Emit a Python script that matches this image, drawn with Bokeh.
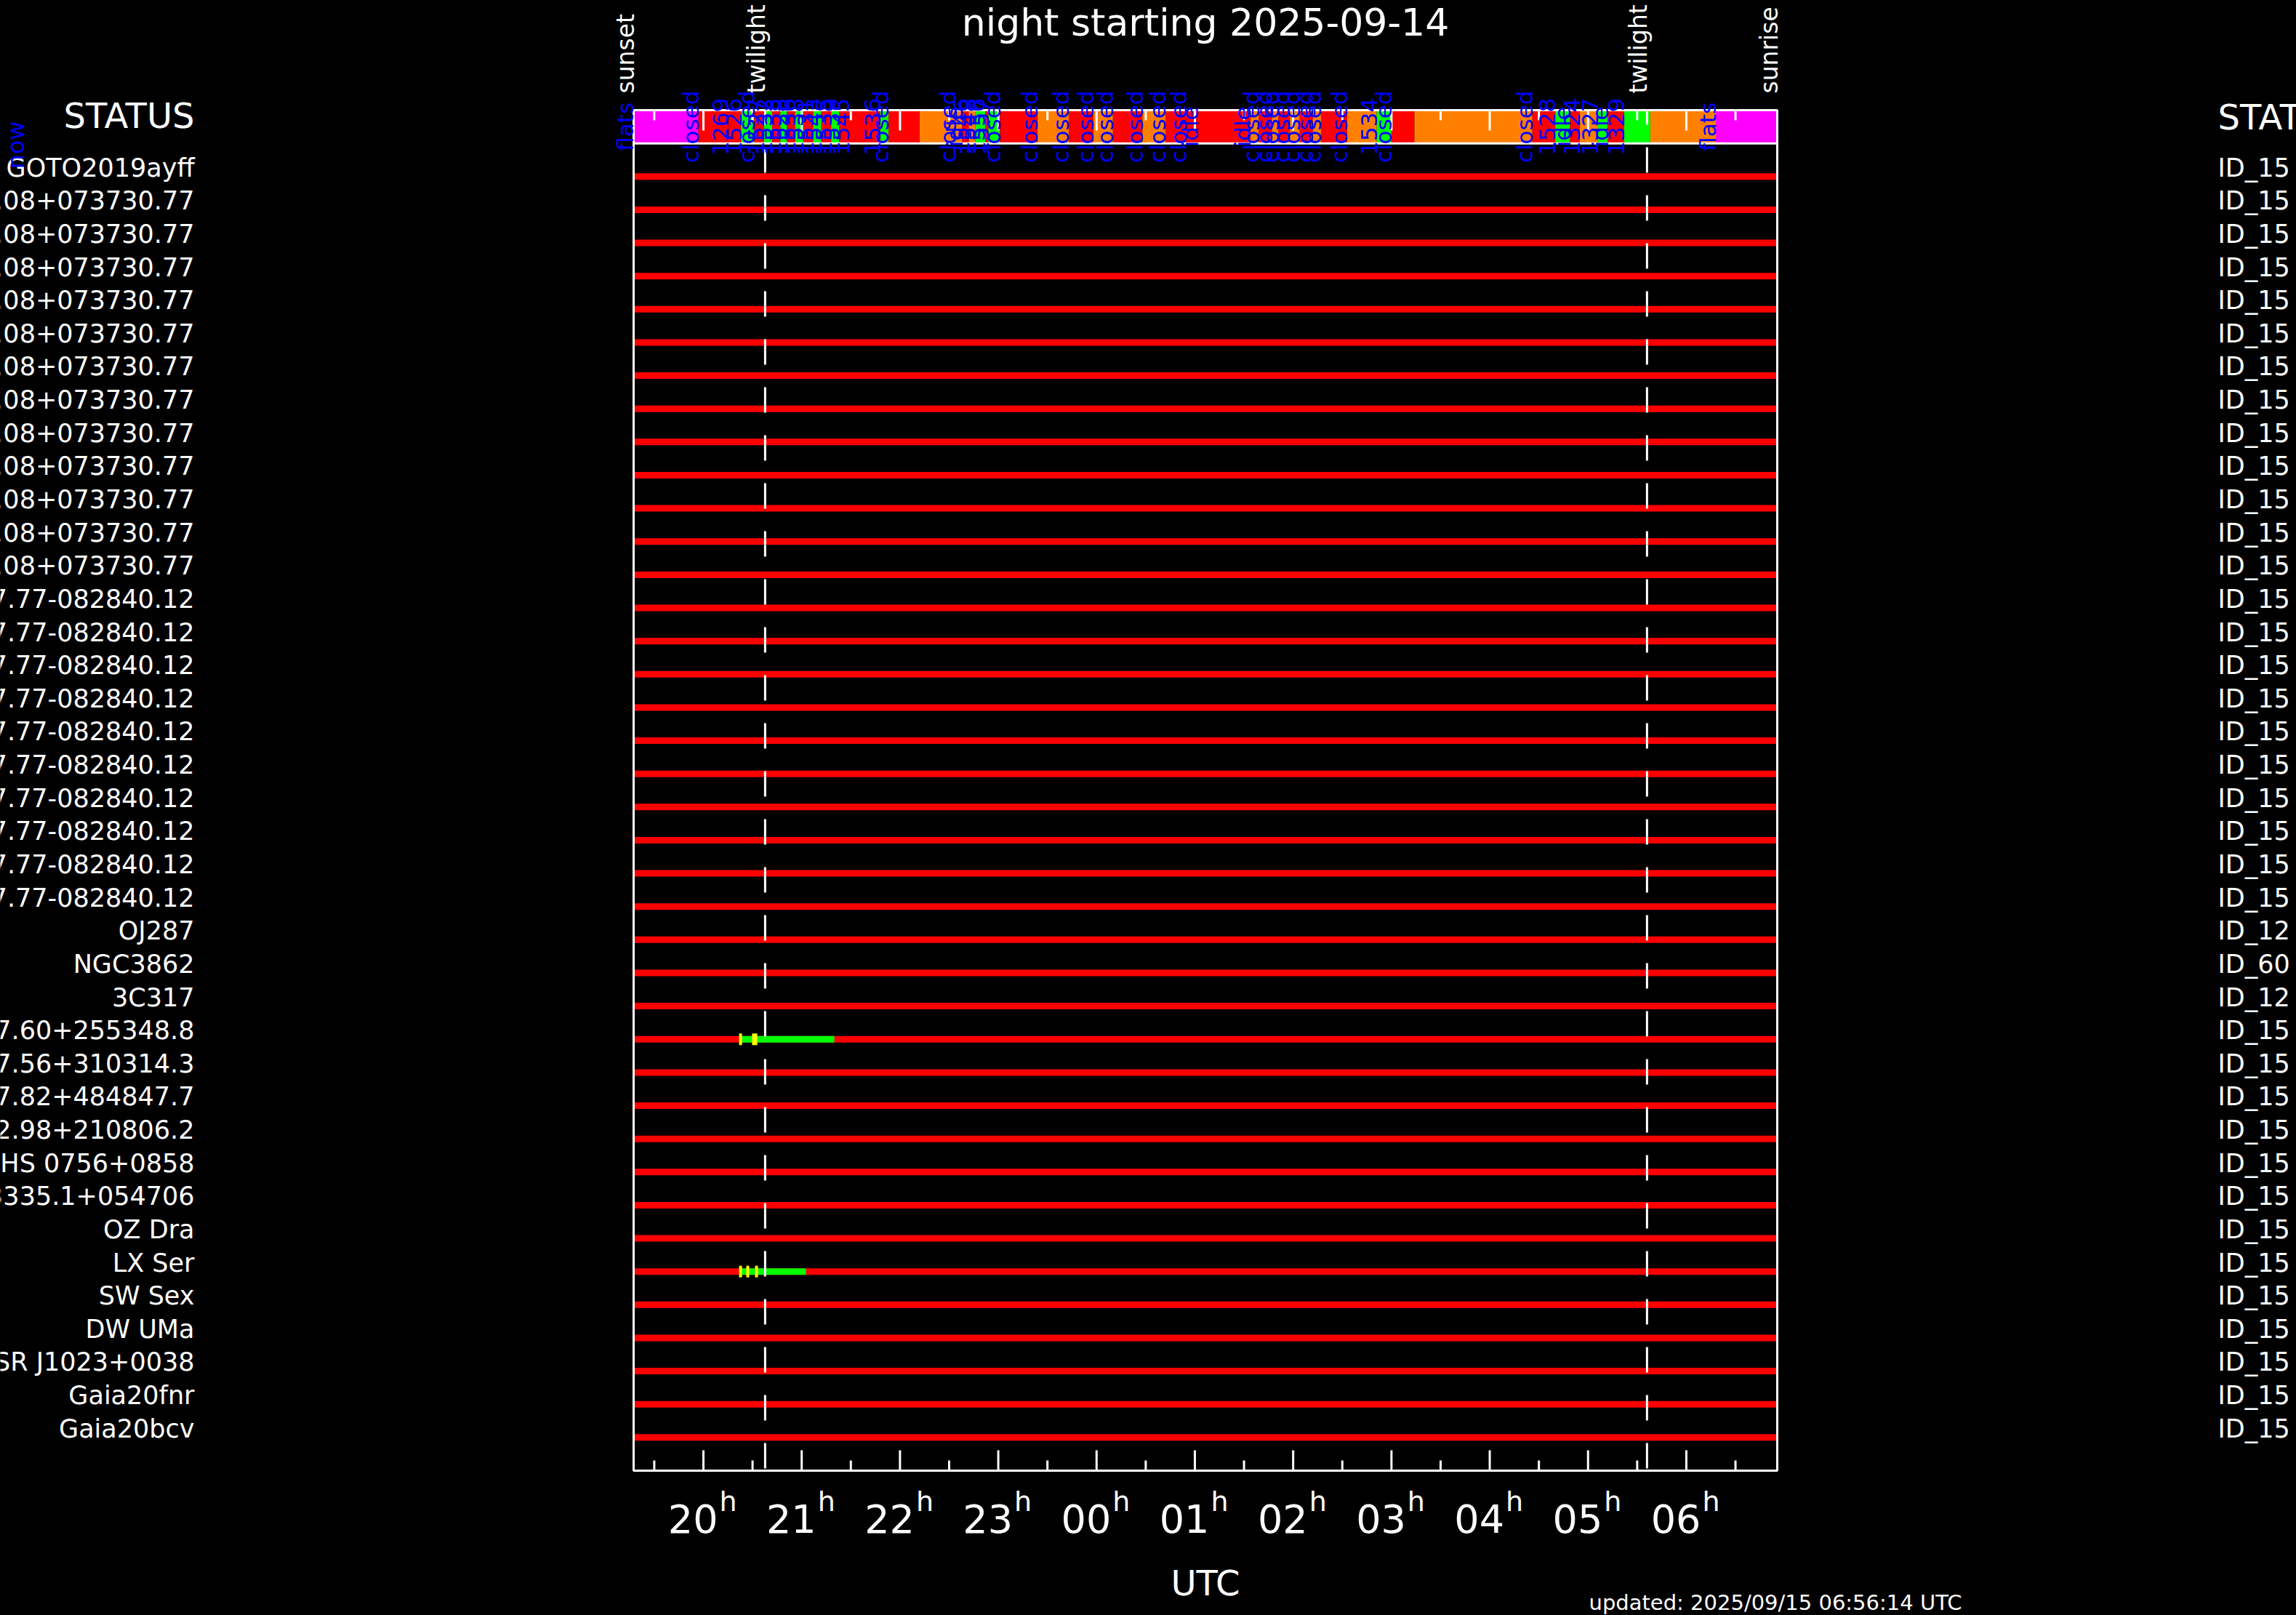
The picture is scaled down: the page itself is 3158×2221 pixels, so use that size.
import math
from bokeh.plotting import figure
from bokeh.models import Range1d, ColumnDataSource, GlobalInlineStyleSheet
from bokeh.embed import file_html
from bokeh.resources import INLINE
from bokeh.core.properties import value

# ---------------- data ----------------
night_date = "2025-09-14"
updated_text = "updated: 2025/09/15 06:56:14 UTC"
sunset = "19:17:24"
sunrise = "06:55:30"
twilight_eve = "20:37:40"
twilight_morn = "05:36:00"

targets = (["GOTO2019ayff"] + ["J081305.08+073730.77"] * 12 + ["J153117.77-082840.12"] * 10 +
           ["OJ287", "NGC3862", "3C317", "J154817.60+255348.8", "J075107.56+310314.3",
            "J132307.82+484847.7", "J152212.98+210806.2", "HS 0756+0858", "J183335.1+054706",
            "OZ Dra", "LX Ser", "SW Sex", "DW UMa", "PSR J1023+0038", "Gaia20fnr", "Gaia20bcv"])
target_ids = (["ID_15"] * 23 + ["ID_12", "ID_60", "ID_12"] + ["ID_15"] * 13)

obs_target = ["J154817.60+255348.8", "LX Ser"]
obs_start = ["20:22:12", "20:22:12"]
obs_end = ["21:19:54", "21:02:36"]

exp_target = ["J154817.60+255348.8"] * 3 + ["LX Ser"] * 3
exp_time = ["20:22:40", "20:30:36", "20:32:00", "20:22:40", "20:27:04", "20:32:24"]

status_start = ["19:17", "19:57", "20:15", "20:23", "20:31", "20:37", "20:42", "20:47", "20:51",
                "20:56", "21:01", "21:07", "21:12", "21:18", "21:23", "21:29", "21:48", "21:53",
                "22:12", "22:34", "22:38", "22:42", "22:46", "22:52", "22:54", "23:01", "23:24",
                "23:43", "23:58", "00:10", "00:28", "00:42", "00:55", "01:02", "01:34", "01:39",
                "01:47", "01:51", "01:58", "02:04", "02:12", "02:17", "02:33", "02:51", "03:00",
                "03:14", "04:26", "04:40", "04:49", "04:55", "05:06", "05:12", "05:22", "05:38",
                "06:18"]
status_state = ["flats", "closed", "closed", "observing", "closed", "observing", "closed", "observing",
                "closed", "observing", "closed", "observing", "closed", "observing", "closed", "closed",
                "observing", "closed", "open", "open", "closed", "open", "observing", "closed",
                "observing", "closed", "open", "closed", "open", "closed", "open", "closed", "closed",
                "closed", "open", "closed", "open", "closed", "open", "closed", "open", "closed",
                "open", "observing", "closed", "open", "closed", "observing", "closed", "open",
                "observing", "closed", "observing", "open", "flats"]
status_label = ["flats", "closed", "1269", "1526", "closed", "1527", "1532", "1533", "1528",
                "1536", "1538", "1531", "1543", "1535", "1539", "1545", "1536", "closed",
                "", "closed", "idle", "1546", "1548", "1556", "1557", "closed", "closed",
                "closed", "closed", "closed", "closed", "closed", "closed", "idle", "idle", "closed",
                "closed", "closed", "closed", "closed", "closed", "closed", "closed", "1534", "closed",
                "", "closed", "1528", "idle", "1324", "1327", "idle", "1329", "",
                "flats"]

tick_hours = [20, 21, 22, 23, 24, 25, 26, 27, 28, 29, 30]
tick_labels = ["20", "21", "22", "23", "00", "01", "02", "03", "04", "05", "06"]


def hrs(t):
    parts = [float(x) for x in t.split(":")]
    h = parts[0] + parts[1] / 60 + (parts[2] / 3600 if len(parts) > 2 else 0)
    return h + 24 if h < 12 else h


STATE_COLOR = {"flats": "#FF00FF", "closed": "#FF0000", "open": "#FF8000", "observing": "#00FF00"}
FONT = value("DejaVu Sans")
WHITE, BLUE = "#FFFFFF", "#0000FF"
BL = 0.346   # baseline correction (fraction of font size)

t_set, t_rise = hrs(sunset), hrs(sunrise)
rows = list(range(len(targets)))
row_of = {n: i for i, n in enumerate(targets)}
n_rows = len(targets)

# ---- layout (pixels of the canvas) ----
W, H = 3158, 2221
BOX_L, BOX_R, BOX_T, BOX_B = 871, 2444, 151, 2022
Y_TOP, Y_BOT = -2, n_rows          # status bar row -2..-1, targets 0..n-1
PXH = (BOX_R - BOX_L) / (t_rise - t_set)      # pixels per hour
PXR = (BOX_B - BOX_T) / (Y_BOT - Y_TOP)       # pixels per row


def X(px):
    return t_set + (px - BOX_L) / PXH


def Y(py):
    return Y_TOP + (py - BOX_T) / PXR


def base(fs):
    """shift (in rows) that puts the alphabetic baseline where asked"""
    return -BL * fs / PXR


p = figure(width=W, height=H, x_range=Range1d(X(0), X(W)), y_range=Range1d(Y(H), Y(0)),
           x_axis_type=None, y_axis_type=None, output_backend="svg", toolbar_location=None,
           min_border=0, background_fill_color="black", border_fill_color="black",
           outline_line_color=None)
p.stylesheets = [GlobalInlineStyleSheet(css="html,body{margin:0;padding:0;background:#000;overflow:hidden;}")]

# ---- status bar ----
s_start = [hrs(t) for t in status_start]
s_end = s_start[1:] + [t_rise]
ssrc = ColumnDataSource(dict(left=s_start, right=s_end,
                             color=[STATE_COLOR[s] for s in status_state], label=status_label))
p.quad(left="left", right="right", top=Y_TOP, bottom=Y_TOP + 1, fill_color="color",
       line_color=None, source=ssrc)

# ---- target rows ----
rsrc = ColumnDataSource(dict(y=rows, name=targets, ids=target_ids,
                             ty=[r + base(35) for r in rows]))
p.segment(x0=t_set, x1=t_rise, y0="y", y1="y", line_width=9, line_color="#FF0000", source=rsrc)

osrc = ColumnDataSource(dict(x0=[hrs(t) for t in obs_start], x1=[hrs(t) for t in obs_end],
                             y=[row_of[n] for n in obs_target]))
p.segment(x0="x0", x1="x1", y0="y", y1="y", line_width=9, line_color="#00FF00", source=osrc)

ey = [row_of[n] for n in exp_target]
hh = 8 / PXR
esrc = ColumnDataSource(dict(x=[hrs(t) for t in exp_time], y0=[y - hh for y in ey], y1=[y + hh for y in ey]))
p.segment(x0="x", x1="x", y0="y0", y1="y1", line_width=4, line_color="#FFFF00", source=esrc)

# ---- twilight dashed lines ----
tw = [hrs(twilight_eve), hrs(twilight_morn)]
p.segment(x0=tw, x1=tw, y0=Y_TOP, y1=Y_BOT, line_width=3, line_color=WHITE,
          line_dash="35 31", line_dash_offset=15, line_cap="butt")

# ---- box, separator, ticks ----
p.segment(x0=t_set, x1=t_rise, y0=Y_TOP + 1, y1=Y_TOP + 1, line_width=3, line_color=WHITE)
p.quad(left=t_set, right=t_rise, top=Y_TOP, bottom=Y_BOT, fill_color=None,
       line_color=WHITE, line_width=3)
minor = [h + 0.5 for h in range(19, 31) if t_set < h + 0.5 < t_rise]
for ticks, ln in ((tick_hours, 28), (minor, 14)):
    L = ln / PXR
    p.segment(x0=ticks, x1=ticks, y0=Y_BOT, y1=Y_BOT - L, line_width=3, line_color=WHITE)
    p.segment(x0=ticks, x1=ticks, y0=Y_TOP, y1=Y_TOP + L, line_width=3, line_color=WHITE)


def htext(x, py, text, fs, align="left", color=WHITE, **kw):
    p.text(x=x, y=Y(py) + base(fs), text=text, text_align=align, text_baseline="alphabetic",
           text_color=color, text_font=FONT, text_font_size=f"{fs}px", **kw)


def vtext(x, y, text, fs, align="left", color=WHITE, **kw):
    p.text(x=x, y=y, text=text, angle=math.pi / 2, x_offset=-BL * fs, text_align=align,
           text_baseline="alphabetic", text_color=color, text_font=FONT,
           text_font_size=f"{fs}px", **kw)


# ---- axis texts ----
tsrc = ColumnDataSource(dict(x=tick_hours, lab=tick_labels, h=["h"] * len(tick_hours)))
htext("x", 2107, "lab", 54, align="right", source=tsrc, x_offset=20)
htext("x", 2078, "h", 38, align="left", source=tsrc, x_offset=22)
htext([(t_set + t_rise) / 2], 2193, ["UTC"], 48, align="center")

# ---- other texts ----
htext([(t_set + t_rise) / 2], 48, [f"night starting {night_date}"], 52, align="center")
htext([X(267)], 175, ["STATUS"], 48, align="right")
htext([X(3050)], 177, ["STATUS"], 48, align="left")
p.text(x=X(267), y="ty", text="name", source=rsrc, text_align="right", text_baseline="alphabetic",
       text_color=WHITE, text_font=FONT, text_font_size="35px")
p.text(x=X(3050), y="ty", text="ids", source=rsrc, text_align="left", text_baseline="alphabetic",
       text_color=WHITE, text_font=FONT, text_font_size="35px")
htext([X(2185)], 2214, [updated_text], 29, align="left")

evsrc = ColumnDataSource(dict(x=[t_set, tw[0], tw[1], t_rise],
                              text=["sunset", "twilight", "twilight", "sunrise"]))
vtext("x", Y(128), "text", 33, align="left", source=evsrc)
vtext("left", Y_TOP + 0.5, "label", 31, align="center", color=BLUE, source=ssrc)
vtext([X(33)], [Y(232)], ["now"], 32, align="left", color=BLUE)

open("out.html", "w").write(file_html(p, INLINE))
